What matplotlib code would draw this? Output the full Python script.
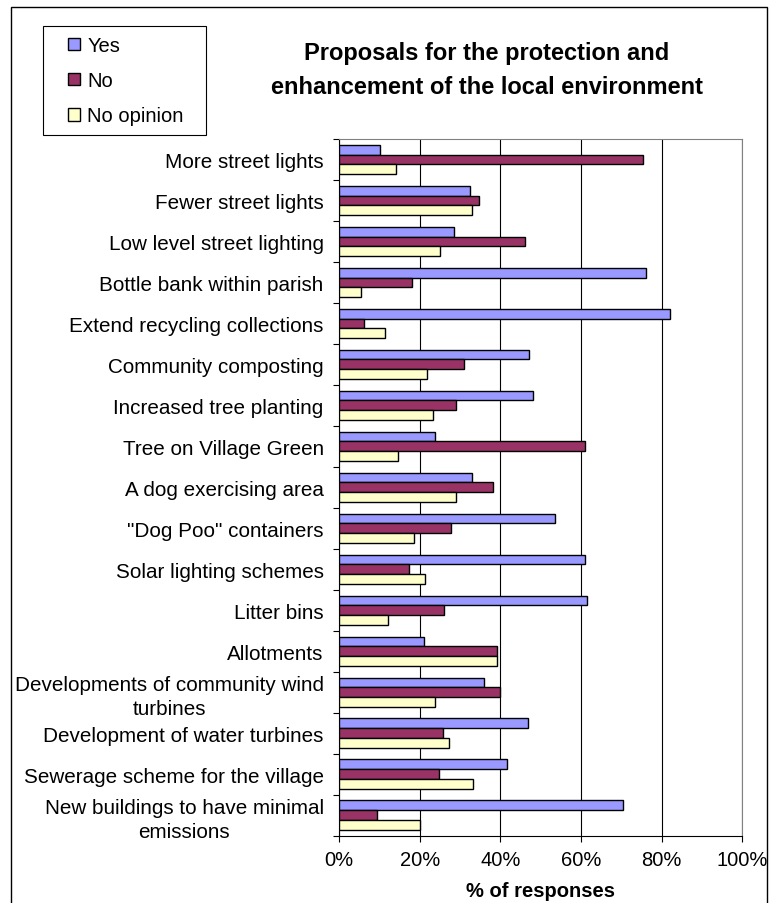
import numpy as np
import matplotlib
matplotlib.use("Agg")
import matplotlib.pyplot as plt
from matplotlib.patches import Rectangle
from matplotlib.ticker import FixedLocator, FuncFormatter

plt.rcParams['font.family'] = ['Liberation Sans', 'DejaVu Sans']

categories = [
    "More street lights",
    "Fewer street lights",
    "Low level street lighting",
    "Bottle bank within parish",
    "Extend recycling collections",
    "Community composting",
    "Increased tree planting",
    "Tree on Village Green",
    "A dog exercising area",
    "\"Dog Poo\" containers",
    "Solar lighting schemes",
    "Litter bins",
    "Allotments",
    "Developments of community wind\nturbines",
    "Development of water turbines",
    "Sewerage scheme for the village",
    "New buildings to have minimal\nemissions",
]
yes_vals = [10.2, 32.5, 28.5, 76.2, 82.1, 47.2, 48.0, 23.8, 32.9, 53.6, 61.1, 61.5, 21.0, 36.0, 46.8, 41.7, 70.3]
no_vals = [75.3, 34.6, 46.0, 18.2, 6.3, 30.9, 29.0, 61.1, 38.1, 27.7, 17.4, 26.1, 39.2, 40.0, 25.7, 24.9, 9.5]
noop_vals = [14.2, 32.9, 25.0, 5.5, 11.4, 21.8, 23.4, 14.6, 29.0, 18.6, 21.4, 12.2, 39.2, 23.8, 27.3, 33.3, 20.2]
series_names = ["Yes", "No", "No opinion"]
series_colors = ["#9999FF", "#993366", "#FFFFCC"]
x_ticks = [0, 20, 40, 60, 80, 100]

W, H = 770, 904
fig = plt.figure(figsize=(W / 100, H / 100), dpi=100)

ax = fig.add_axes([339 / W, 1 - 836.7 / H, (742.3 - 339) / W, (836.7 - 140) / H])

n = len(categories)
y = np.arange(n)
bh = 0.24
handles = []
for i, (vals, name, col) in enumerate(zip([yes_vals, no_vals, noop_vals], series_names, series_colors)):
    b = ax.barh(y + (i - 1) * bh, vals, height=bh, color=col, edgecolor='black',
                linewidth=1.0, label=name, zorder=3)
    handles.append(b)

ax.set_xlim(0, 100)
ax.set_ylim(n - 0.5, -0.5)

ax.xaxis.set_major_locator(FixedLocator(x_ticks))
ax.xaxis.set_major_formatter(FuncFormatter(lambda v, p: f"{int(v)}%"))
ax.tick_params(axis='x', direction='out', length=4.3, width=0.8, labelsize=14.5, pad=6)

# category ticks at boundaries, labels at centers
ax.yaxis.set_major_locator(FixedLocator(np.arange(n + 1) - 0.5))
ax.yaxis.set_major_formatter(FuncFormatter(lambda v, p: ""))
ax.yaxis.set_minor_locator(FixedLocator(y))
ax.set_yticks(y, categories, minor=True)
ax.tick_params(axis='y', which='major', direction='out', length=4.3, width=0.8)
ax.tick_params(axis='y', which='minor', length=0, labelsize=14.9, pad=11)
for lab in ax.get_yticklabels(minor=True):
    lab.set_multialignment('center')
    lab.set_linespacing(1.3)

ax.grid(axis='x', color='black', linewidth=0.8)
ax.set_axisbelow(True)
for s in ['left', 'bottom']:
    ax.spines[s].set_color('black')
    ax.spines[s].set_linewidth(0.8)
for s in ['top', 'right']:
    ax.spines[s].set_color('#808080')
    ax.spines[s].set_linewidth(0.8)

ax.set_xlabel("% of responses", fontsize=14.5, fontweight='bold', labelpad=8.5)

fig.text(487 / W, 1 - 70.3 / H,
         "Proposals for the protection and\nenhancement of the local environment",
         ha='center', va='center', fontsize=17, fontweight='bold', linespacing=1.6)

# legend
fig.add_artist(Rectangle((42.7 / W, 1 - 136 / H), (206 - 42.7) / W, (136 - 27.3) / H,
                         transform=fig.transFigure, fill=False, edgecolor='black', linewidth=0.8))
fig.legend(handles=handles, labels=series_names, loc='upper left',
           bbox_to_anchor=(68 / W, 1 - 37 / H), frameon=False, fontsize=14.5,
           handlelength=0.6, handleheight=0.6, handletextpad=0.35,
           labelspacing=0.8, borderpad=0, borderaxespad=0)

# outer chart border
fig.add_artist(Rectangle((11 / W, -0.02), (767 - 11) / W, 1 - 8 / H + 0.02,
                         transform=fig.transFigure, fill=False, edgecolor='black', linewidth=1.0))

fig.savefig("out.png", dpi=100)
